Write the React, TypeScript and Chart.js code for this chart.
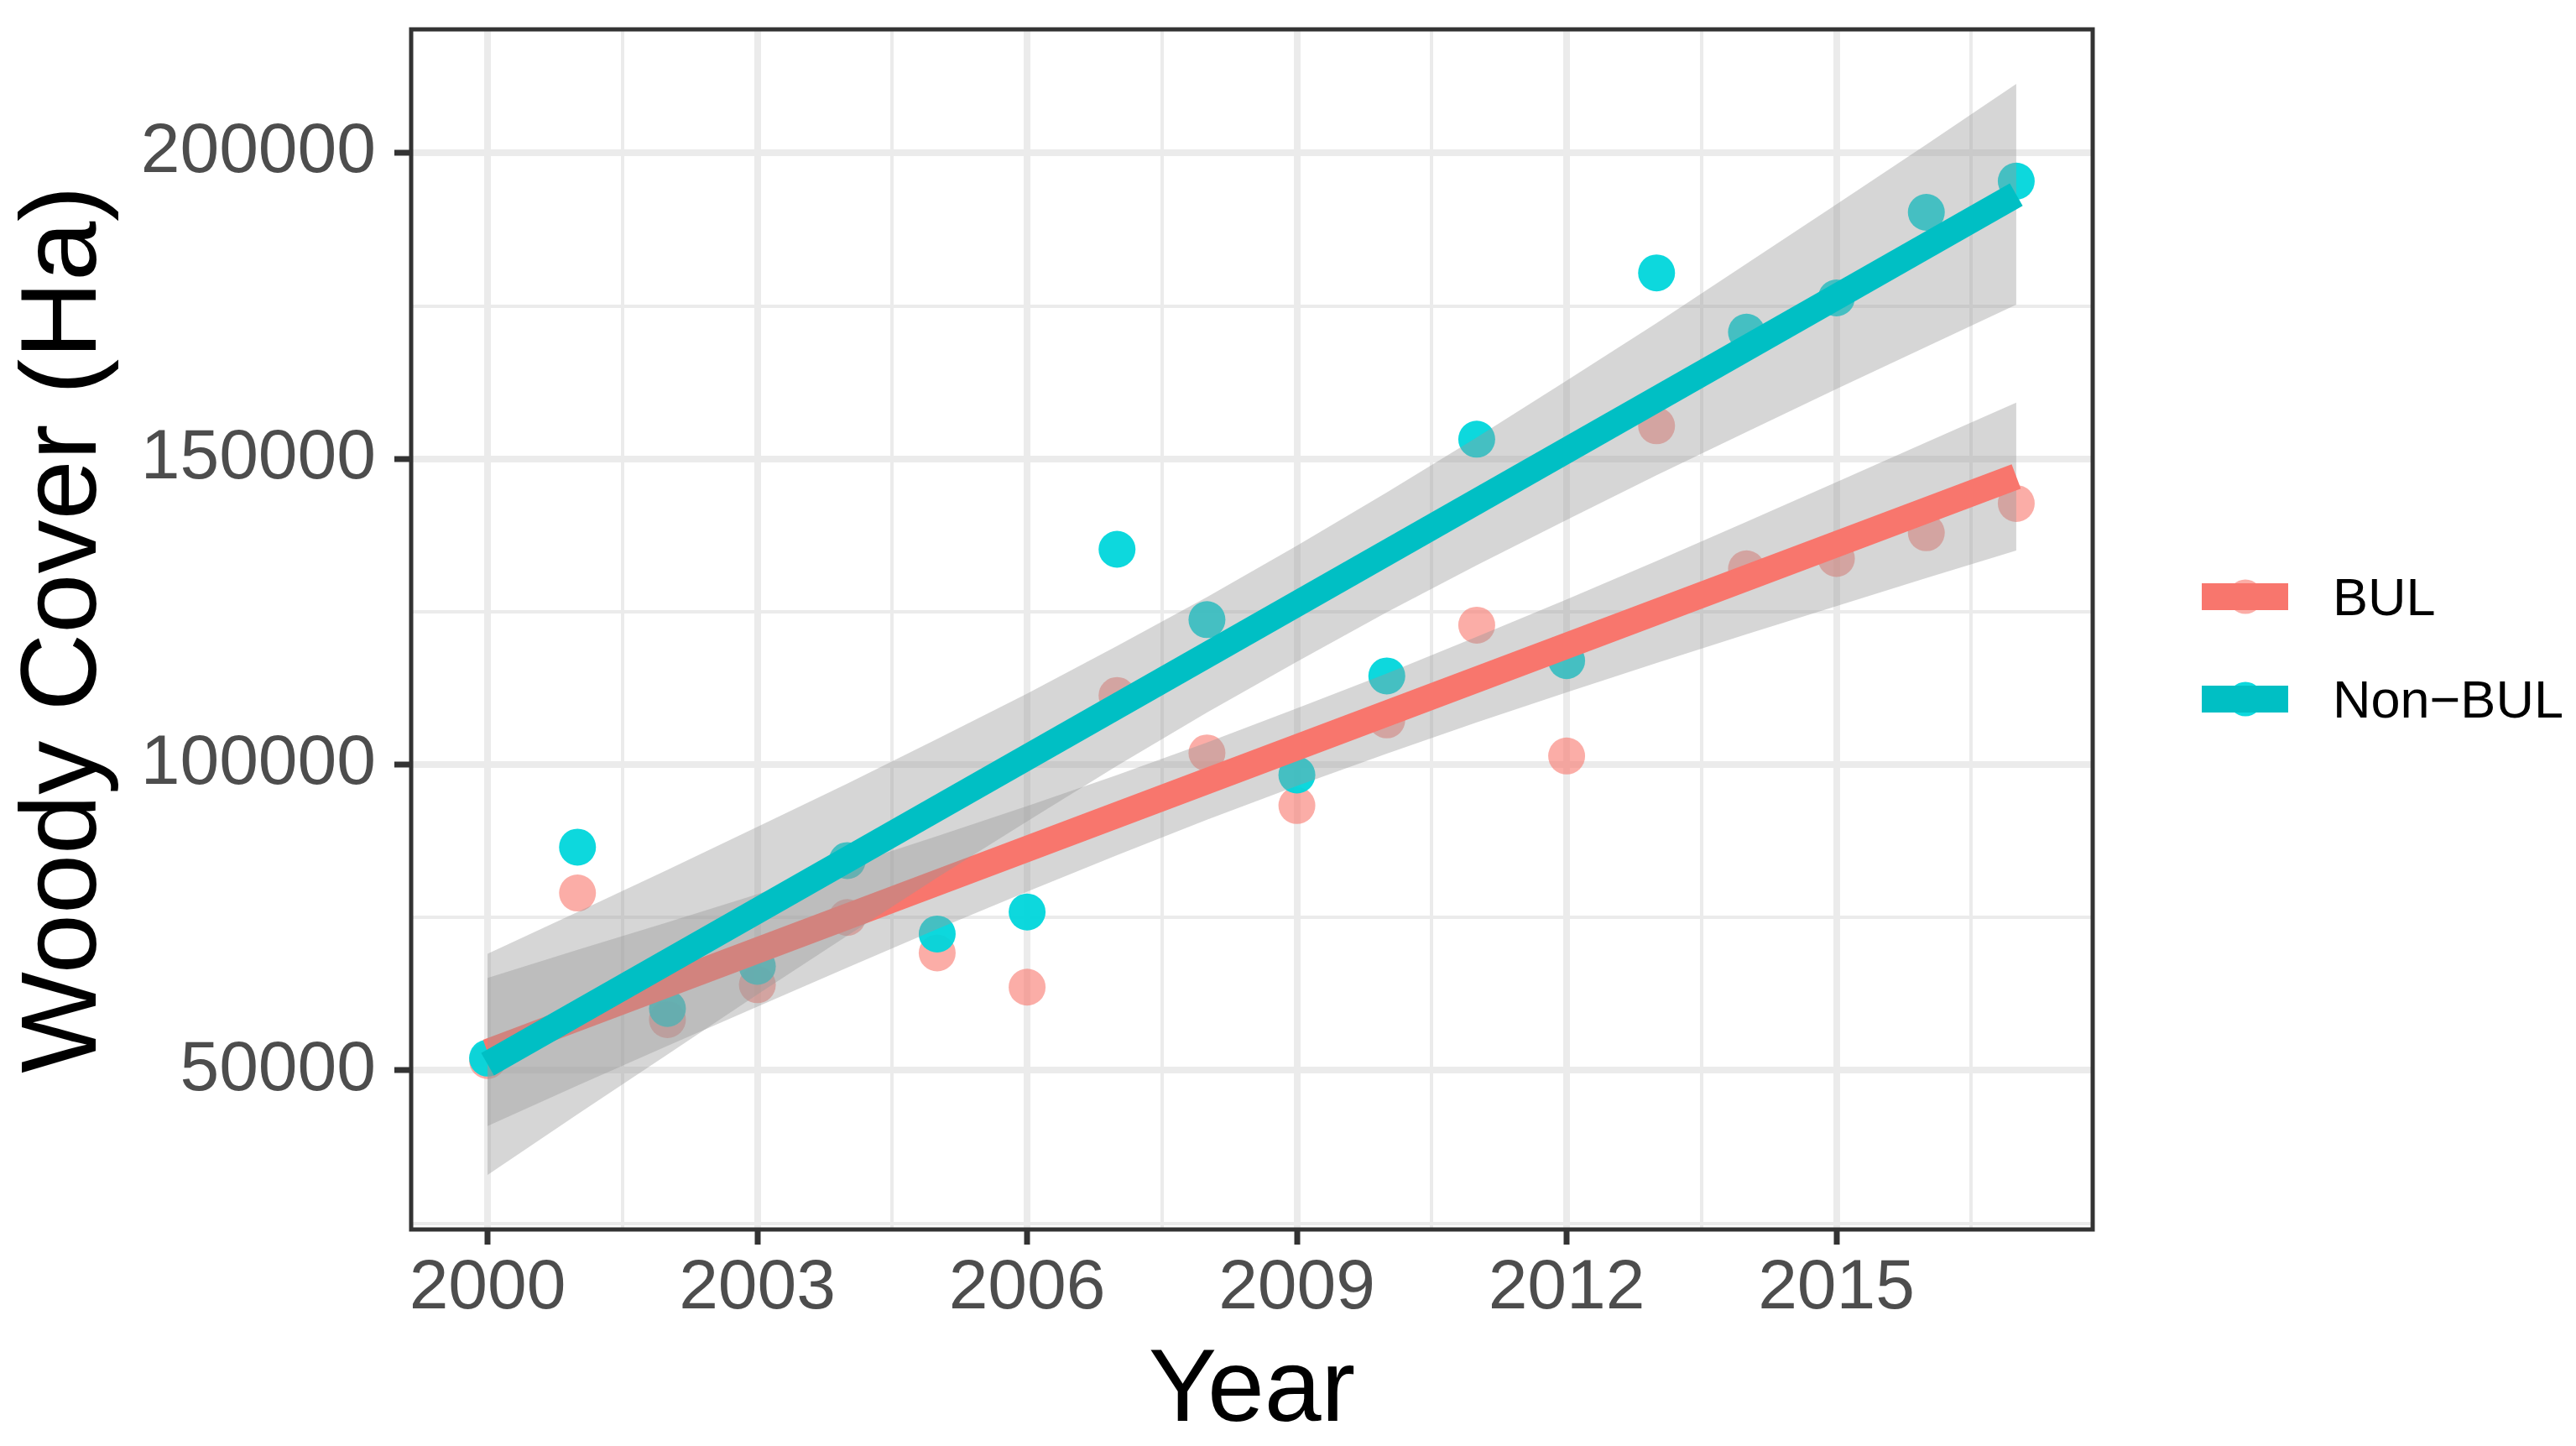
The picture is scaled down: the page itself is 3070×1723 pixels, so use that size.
import React, { useEffect, useRef } from "react";
import { Chart, registerables } from "chart.js";

Chart.register(...registerables);

// ---- data ----
const years = [2000, 2001, 2002, 2003, 2004, 2005, 2006, 2007, 2008, 2009, 2010, 2011, 2012, 2013, 2014, 2015, 2016, 2017];
const bulCover = [51600, 79000, 58300, 64000, 75000, 69200, 63600, 111300, 101900, 93300, 107300, 122800, 101400, 155400, 132000, 133700, 137900, 142700];
const nonBulCover = [52000, 86500, 60100, 67000, 84300, 72300, 75900, 135200, 123700, 98300, 114500, 153200, 117000, 180400, 170700, 176300, 190300, 195400];

// fitted trend lines (end points)
const fitYears = [2000, 2017];
const bulFit = [53000, 147100];
const nonBulFit = [51000, 193200];

// confidence ribbons read per year
const bulUpper = [65100, 69700, 74200, 78800, 83500, 88300, 93200, 98300, 103600, 109200, 114900, 120900, 127000, 133300, 139700, 146200, 152700, 159200];
const bulLower = [40900, 47500, 54000, 60400, 66800, 73100, 79200, 85200, 91000, 96500, 101800, 106900, 111800, 116600, 121300, 125900, 130500, 135000];
const nonBulUpper = [69050, 75900, 82800, 89800, 96900, 104200, 111600, 119400, 127400, 135800, 144500, 153500, 162800, 172200, 181900, 191600, 201400, 211300];
const nonBulLower = [32900, 42800, 52600, 62400, 72000, 81500, 90700, 99800, 108500, 116800, 124900, 132600, 140000, 147300, 154400, 161400, 168300, 175200];

const xMajorTicks = [2000, 2003, 2006, 2009, 2012, 2015];
const xMinorTicks = [2001.5, 2004.5, 2007.5, 2010.5, 2013.5, 2016.5];
const yMajorTicks = [50000, 100000, 150000, 200000];
const yMinorTicks = [25000, 75000, 125000, 175000];
const seriesNames = ["BUL", "Non\u2212BUL"];
const xTitle = "Year";
const yTitle = "Woody Cover (Ha)";

// ---- styles ----
const W = 3070;
const H = 1723;
const FONT = "'Liberation Sans', Arial, sans-serif";
const BUL_LINE = "#F8766D";
const NON_LINE = "#00BFC4";
const BUL_PT = "rgba(248,118,109,0.6)";
const NON_PT = "rgba(0,214,219,0.95)";
const RIBBON = "rgba(153,153,153,0.4)";
const GRID = "#EBEBEB";
const DARK = "#333333";

const pts = (xs: number[], ys: number[]) => xs.map((x, i) => ({ x, y: ys[i] }));

const panelBorder = {
  id: "panelBorder",
  afterDraw(chart: any) {
    const { ctx, chartArea: a } = chart;
    ctx.save();
    ctx.strokeStyle = DARK;
    ctx.lineWidth = 5;
    ctx.strokeRect(a.left, a.top, a.right - a.left, a.bottom - a.top);
    ctx.restore();
  },
};

const customLegend = {
  id: "customLegend",
  afterDraw(chart: any) {
    const ctx = chart.ctx;
    const rows = [
      { name: seriesNames[0], line: BUL_LINE, dot: BUL_PT, y: 711 },
      { name: seriesNames[1], line: NON_LINE, dot: NON_PT, y: 833 },
    ];
    ctx.save();
    for (const r of rows) {
      ctx.fillStyle = r.dot;
      ctx.beginPath();
      ctx.arc(2676, r.y, 20.5, 0, Math.PI * 2);
      ctx.fill();
      ctx.fillStyle = r.line;
      ctx.fillRect(2624, r.y - 16, 103, 32);
      ctx.fillStyle = "#000000";
      ctx.font = `63px ${FONT}`;
      ctx.textAlign = "left";
      ctx.textBaseline = "alphabetic";
      ctx.fillText(r.name, 2780, r.y + 22);
    }
    ctx.restore();
  },
};

export default function App() {
  const ref = useRef<HTMLCanvasElement | null>(null);

  useEffect(() => {
    document.body.style.margin = "0";
    document.body.style.overflow = "hidden";
    const canvas = ref.current;
    if (!canvas) return;

    const isXMajor = (v: number) => xMajorTicks.includes(v);
    const isYMajor = (v: number) => yMajorTicks.includes(v);

    const chart = new Chart(canvas, {
      type: "line",
      data: {
        datasets: [
          {
            label: seriesNames[1] + " fit",
            data: pts(fitYears, nonBulFit),
            borderColor: NON_LINE,
            borderWidth: 31,
            borderCapStyle: "butt",
            pointRadius: 0,
            fill: false,
          },
          {
            label: seriesNames[1] + " upper",
            data: pts(years, nonBulUpper),
            borderWidth: 0,
            borderColor: "rgba(0,0,0,0)",
            backgroundColor: RIBBON,
            pointRadius: 0,
            fill: "+1",
          },
          {
            label: seriesNames[1] + " lower",
            data: pts(years, nonBulLower),
            borderWidth: 0,
            borderColor: "rgba(0,0,0,0)",
            pointRadius: 0,
            fill: false,
          },
          {
            label: seriesNames[0] + " fit",
            data: pts(fitYears, bulFit),
            borderColor: BUL_LINE,
            borderWidth: 31,
            borderCapStyle: "butt",
            pointRadius: 0,
            fill: false,
          },
          {
            label: seriesNames[0] + " upper",
            data: pts(years, bulUpper),
            borderWidth: 0,
            borderColor: "rgba(0,0,0,0)",
            backgroundColor: RIBBON,
            pointRadius: 0,
            fill: "+1",
          },
          {
            label: seriesNames[0] + " lower",
            data: pts(years, bulLower),
            borderWidth: 0,
            borderColor: "rgba(0,0,0,0)",
            pointRadius: 0,
            fill: false,
          },
          {
            label: seriesNames[1],
            data: pts(years, nonBulCover),
            showLine: false,
            pointRadius: 22,
            pointBorderWidth: 0,
            pointBackgroundColor: NON_PT,
            pointBorderColor: "rgba(0,0,0,0)",
          },
          {
            label: seriesNames[0],
            data: pts(years, bulCover),
            showLine: false,
            pointRadius: 22,
            pointBorderWidth: 0,
            pointBackgroundColor: BUL_PT,
            pointBorderColor: "rgba(0,0,0,0)",
          },
        ] as any,
      },
      options: {
        animation: false,
        responsive: false,
        devicePixelRatio: 1,
        layout: { padding: { left: 0, top: 35, right: 576, bottom: 0 } },
        elements: { line: { tension: 0 } },
        plugins: {
          legend: { display: false },
          tooltip: { enabled: false },
        },
        scales: {
          x: {
            type: "linear",
            min: 1999.15,
            max: 2017.85,
            afterBuildTicks: (s: any) => {
              s.ticks = [...xMajorTicks, ...xMinorTicks].sort((a, b) => a - b).map((v) => ({ value: v }));
            },
            afterFit: (s: any) => {
              s.height = H - 1465;
              s.paddingLeft = 0;
              s.paddingRight = 0;
            },
            ticks: {
              autoSkip: false,
              maxRotation: 0,
              minRotation: 0,
              padding: 2,
              color: "#4D4D4D",
              font: { family: FONT, size: 84 },
              callback: (v: any) => (isXMajor(Number(v)) ? String(v) : ""),
            },
            grid: {
              color: GRID,
              lineWidth: (c: any) => (c.tick && isXMajor(c.tick.value) ? 8 : 4),
              drawTicks: true,
              tickLength: 18,
              tickWidth: 7,
              tickColor: (c: any) => (c.tick && isXMajor(c.tick.value) ? DARK : "rgba(0,0,0,0)"),
            },
            border: { display: false },
            title: {
              display: true,
              text: xTitle,
              color: "#000000",
              font: { family: FONT, size: 122, lineHeight: 1.05 },
              padding: { top: 0, bottom: 0 },
            },
          },
          y: {
            type: "linear",
            min: 23980,
            max: 220220,
            afterBuildTicks: (s: any) => {
              s.ticks = [...yMajorTicks, ...yMinorTicks].sort((a, b) => a - b).map((v) => ({ value: v }));
            },
            afterFit: (s: any) => {
              s.width = 490;
              s.paddingTop = 0;
              s.paddingBottom = 0;
            },
            ticks: {
              autoSkip: false,
              padding: 22,
              color: "#4D4D4D",
              font: { family: FONT, size: 84 },
              callback: (v: any) => (isYMajor(Number(v)) ? String(v) : ""),
            },
            grid: {
              color: GRID,
              lineWidth: (c: any) => (c.tick && isYMajor(c.tick.value) ? 8 : 4),
              drawTicks: true,
              tickLength: 20,
              tickWidth: 7,
              tickColor: (c: any) => (c.tick && isYMajor(c.tick.value) ? DARK : "rgba(0,0,0,0)"),
            },
            border: { display: false },
            title: {
              display: true,
              text: yTitle,
              color: "#000000",
              font: { family: FONT, size: 128 },
              padding: { top: 2, bottom: 0 },
            },
          },
        },
      } as any,
      plugins: [panelBorder, customLegend],
    });

    return () => chart.destroy();
  }, []);

  return (
    <div style={{ width: W, height: H, background: "#ffffff" }}>
      <canvas ref={ref} width={W} height={H} style={{ width: W, height: H, display: "block" }} />
    </div>
  );
}
